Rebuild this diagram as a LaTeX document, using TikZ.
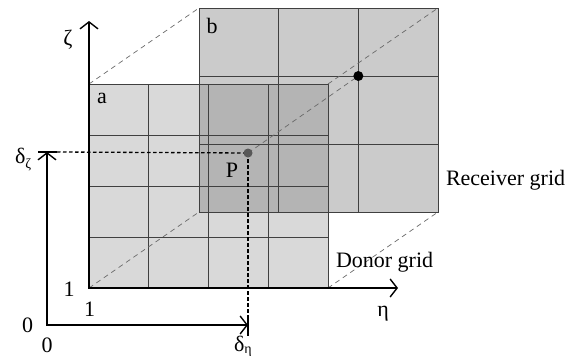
\documentclass[tikz,border=0pt]{standalone}
\usepackage{fontspec}
\setmainfont{Liberation Serif}
\usetikzlibrary{arrows.meta,calc}
\definecolor{donorfill}{HTML}{D9D9D9}
\definecolor{recvfill}{HTML}{CBCBCB}
\definecolor{overfill}{HTML}{B4B4B4}
\definecolor{gridline}{HTML}{404040}
\definecolor{guidegray}{HTML}{6A6A6A}
\definecolor{pgray}{HTML}{585858}
\newcommand\subtxt[1]{\raisebox{-0.25em}{\fontsize{14}{16}\selectfont #1}}
\newcommand\subtxtb[1]{\raisebox{-0.12em}{\fontsize{14}{16}\selectfont #1}}
\begin{document}
\begin{tikzpicture}[x=1pt,y=-1pt,
  gridbox/.style={rectangle, draw=gridline, line width=0.8pt, minimum width=239pt, minimum height=204pt, inner sep=0pt, outer sep=0pt},
  gline/.style={draw=gridline, line width=0.8pt},
  guide/.style={draw=guidegray, dash pattern=on 5pt off 4pt, line width=0.7pt},
  axis/.style={line width=1.4pt, {Straight Barb[length=7pt,width=18pt]}-{Straight Barb[length=7pt,width=18pt]}},
  tickbar/.style={line width=1.4pt},
  proj/.style={line width=1.3pt, dash pattern=on 3.5pt off 2.5pt},
  lbl/.style={font=\fontsize{22}{26}\selectfont, inner sep=0pt, outer sep=0pt},
  dot/.style={circle, inner sep=0pt, outer sep=0pt}]

\useasboundingbox (0,0) rectangle (588,359);

% grids
\node[gridbox, fill=recvfill] (recv) at (318.5,110) {};
\node[gridbox, fill=donorfill] (donor) at (208.5,186) {};
\fill[overfill] (recv.west |- donor.north) rectangle (donor.east |- recv.south);

% donor grid lines
\foreach \x in {89,148.75,208.5,268.25,328} \draw[gline] (\x,84) -- (\x,288);
\foreach \y in {84,135,186,237,288} \draw[gline] (89,\y) -- (328,\y);
% receiver grid lines
\foreach \x in {199,278.67,358.33,438} \draw[gline] (\x,8) -- (\x,212);
\foreach \y in {8,76,144,212} \draw[gline] (199,\y) -- (438,\y);

% points
\coordinate (Pc) at (248,153);
\coordinate (P2c) at (358.33,76);

% dashed guides
\draw[guide] (donor.north west) -- (recv.north west);
\draw[guide] (donor.south west) -- (recv.south west);
\draw[guide] (donor.south east) -- (recv.south east);
\draw[guide] (donor.north east) -- (recv.north east);
\draw[guide] (Pc) -- (P2c);

% main axes
\coordinate (o1) at (89,288);
\coordinate (zt) at (89,21);
\coordinate (et) at (398,288);
\draw[axis] (zt) -- (o1) -- (et);

% local axes
\coordinate (o2) at (47,325);
\coordinate (dz) at (47,152);
\coordinate (de) at (248,325);
\draw[axis] (dz) -- (o2) -- (de);
\draw[tickbar] ($(dz)+(-9,0)$) -- ($(dz)+(10,0)$);
\draw[tickbar] ($(de)+(0,-10)$) -- ($(de)+(0,11)$);

% projection lines
\draw[proj] ($(dz)+(10,0)$) -- (Pc);
\draw[proj] (Pc) -- ($(de)+(0,-10)$);

\node[dot, fill=pgray, minimum size=9pt] (P) at (Pc) {};
\node[dot, fill=black, minimum size=10pt] (P2) at (P2c) {};

% labels
\node[lbl] (zl) at (68,40) {ζ};
\node[lbl] (el) at (383,314) {η};
\node[lbl] (one1) at (69,289) {1};
\node[lbl] (one2) at (89.5,309.5) {1};
\node[lbl] (zero1) at (27.5,325.5) {0};
\node[lbl] (zero2) at (47,345) {0};
\node[lbl, anchor=base west] (dzl) at (15,163) {δ\subtxt{ζ}};
\node[lbl, anchor=base west] (del) at (234,351) {δ\subtxtb{η}};
\node[lbl] (al) at (102,98) {a};
\node[lbl] (bl) at (212,26) {b};
\node[lbl] (pl) at (232,170) {P};
\node[lbl, anchor=base west] (rl) at (446,185) {Receiver grid};
\node[lbl, anchor=base west] (dl) at (336,267) {Donor grid};
\end{tikzpicture}
\end{document}
